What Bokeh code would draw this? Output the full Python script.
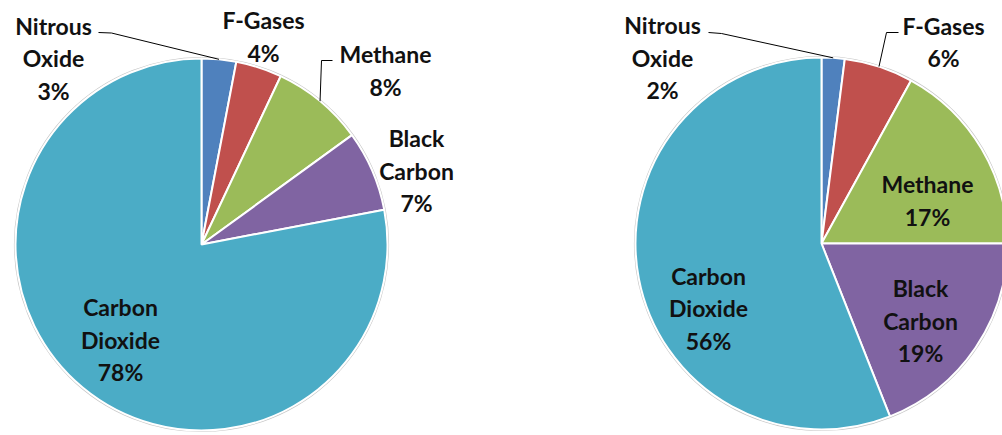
import numpy as np
from bokeh.plotting import figure
from bokeh.models import Range1d, ColumnDataSource
from bokeh.core.properties import value
from bokeh.embed import file_html
from bokeh.resources import INLINE

# ---- data ----
gases = ["Nitrous Oxide", "F-Gases", "Methane", "Black Carbon", "Carbon Dioxide"]
share_left = [3, 4, 8, 7, 78]
share_right = [2, 6, 17, 19, 56]
colors = ["#4F81BD", "#C0504D", "#9BBB59", "#8064A2", "#4BACC6"]

# ---- layout (image pixel coordinates) ----
W, H = 1002, 435
centers = [(201, 244), (821, 243)]
R = 186
label_pos = [
    [(53, 57.5), (263, 36), (385, 70), (416, 170), (120, 339)],
    [(662, 57), (943, 41.5), (927, 200), (920, 320), (708, 307.5)],
]
leaders = [
    {0: [(98, 32), (111, 32.5)], 2: [(332, 60), (321, 60)]},
    {0: [(708, 32), (721, 33)], 1: [(898, 32), (886, 32)]},
]
LINE_GAP = 32.5
FONT = "Lato"
FSIZE = "23px"

p = figure(width=W, height=H, output_backend="svg", toolbar_location=None,
           x_range=Range1d(0, W), y_range=Range1d(-H, 0),
           min_border=0)
p.axis.visible = False
p.grid.visible = False
p.outline_line_color = None
p.background_fill_color = "white"
p.border_fill_color = "white"

for k, shares in enumerate([share_left, share_right]):
    cx, cy = centers[k]
    frac = np.array(shares, dtype=float) / np.sum(shares)
    cum = np.concatenate([[0], np.cumsum(frac)])
    start = np.pi / 2 - 2 * np.pi * cum[:-1]
    end = np.pi / 2 - 2 * np.pi * cum[1:]
    src = ColumnDataSource(dict(start=start, end=end, color=colors))
    p.circle(x=cx, y=-cy, radius=R + 1, fill_color=None, line_color="#c8c8c8", line_width=1.2)
    p.wedge(x=cx, y=-cy, radius=R, start_angle="start", end_angle="end", direction="clock",
            fill_color="color", line_color="white", line_width=2, source=src)

    for idx, pts in leaders[k].items():
        mid = np.pi / 2 - 2 * np.pi * (cum[idx] + cum[idx + 1]) / 2
        ex, ey = cx + R * np.cos(mid), -cy + R * np.sin(mid)
        xs = [pt[0] for pt in pts] + [ex]
        ys = [-pt[1] for pt in pts] + [ey]
        p.line(xs, ys, line_color="black", line_width=1)

    tx, ty, tt = [], [], []
    for i, g in enumerate(gases):
        lines = g.split(" ") + [f"{shares[i]}%"]
        lx, ly = label_pos[k][i]
        n = len(lines)
        for j, s in enumerate(lines):
            tx.append(lx)
            ty.append(-(ly + (j - (n - 1) / 2) * LINE_GAP))
            tt.append(s)
    p.text(x=tx, y=ty, text=tt, text_font=value(FONT), text_font_style="bold",
           text_font_size=FSIZE, text_color="#111111", text_align="center",
           text_baseline="middle")

open("out.html", "w").write(file_html(p, INLINE))
